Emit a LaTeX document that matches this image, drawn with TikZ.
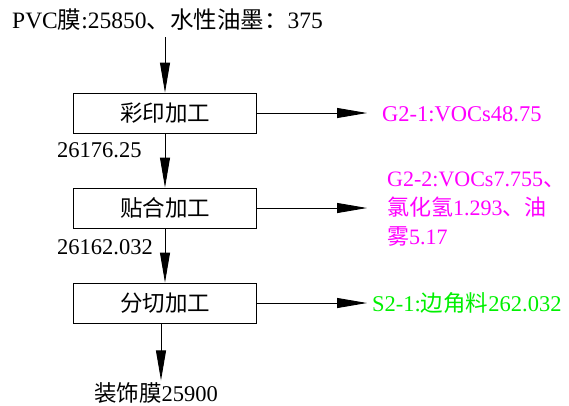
\documentclass[tikz,border=0pt]{standalone}
\usepackage{fontspec}
\setmainfont{Liberation Serif}
\newfontfamily\cjk{Noto Sans CJK SC}
\usetikzlibrary{arrows.meta}
\newcommand{\zh}[1]{{\cjk #1}}
\definecolor{gasclr}{RGB}{255,0,255}
\definecolor{wasteclr}{RGB}{0,240,0}

\begin{document}
\begin{tikzpicture}
	[	x=1pt, y=-1pt,					% единица = пиксель, ось y вниз
		font=\fontsize{22.5}{29}\selectfont,
		box/.style={draw, line width=0.9pt, minimum width=183pt, minimum height=40pt, inner sep=0pt},
		flow/.style={line width=0.9pt, -{Triangle[length=30pt,width=10pt]}},
		lbl/.style={anchor=west, inner sep=0pt}	]
	\useasboundingbox (0,0) rectangle (569,405);		% поле рисунка
	\node[lbl,font=\fontsize{23.5}{29}\selectfont] (src) at (12,20) {PVC\zh{膜}:25850\zh{、水性油墨：}375};	% сырьё
	\node[box] (b1) at (165,113) {\zh{彩印加工}};
	\node[box] (b2) at (165,208) {\zh{贴合加工}};
	\node[box] (b3) at (165,303) {\zh{分切加工}};
	\node[inner sep=0pt] (prod) at (156,393) {\zh{装饰膜}25900};		% продукт
	\node[lbl] (m1) at (57,150) {26176.25};
	\node[lbl] (m2) at (57,247) {26162.032};
	\node[lbl,gasclr] (g1) at (382,114) {G2-1:VOCs48.75};			% выбросы
	\node[lbl,gasclr,align=left,font=\fontsize{22}{29}\selectfont] (g2) at (387,209) {G2-2:VOCs7.755\zh{、}\\\zh{氯化氢}1.293\zh{、油}\\\zh{雾}5.17};
	\node[lbl,wasteclr] (s1) at (372,303) {S2-1:\zh{边角料}262.032};	% отходы
	\draw[flow,shorten <=6pt] (b1.north |- src.south) -- (b1.north);
	\draw[flow] (b1) -- (b2);
	\draw[flow] (b2) -- (b3);
	\draw[flow,shorten >=2pt] ([xshift=-4pt]b3.south) -- ([xshift=-4pt]b3.south |- prod.north);
	\draw[flow,shorten >=15pt] (b1) -- (b1 -| g1.west);
	\draw[flow,shorten >=20pt] (b2) -- (b2 -| g2.west);
	\draw[flow,shorten >=5pt] (b3) -- (b3 -| s1.west);
\end{tikzpicture}
\end{document}
